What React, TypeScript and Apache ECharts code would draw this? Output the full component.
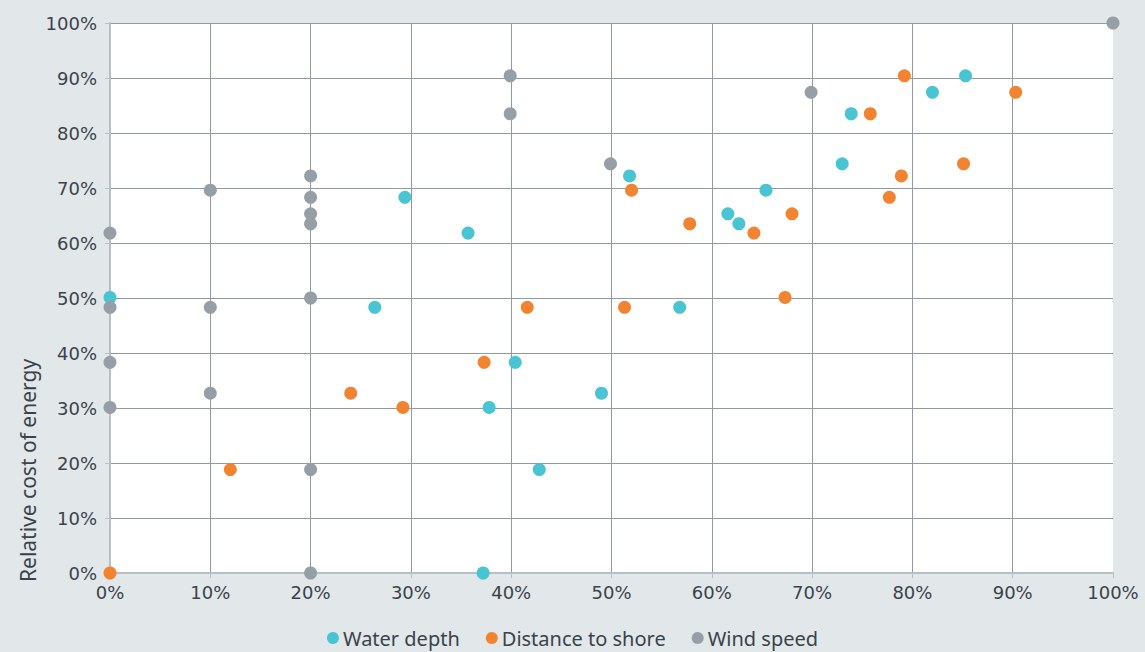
import React, { useEffect, useRef } from "react";
import * as echarts from "echarts";

const seriesNames = ["Water depth", "Distance to shore", "Wind speed"];

const waterDepth: [number, number][] = [
  [0, 50.1], [26.4, 48.3], [29.4, 68.3], [35.7, 61.8], [37.2, 0], [37.8, 30.1],
  [40.4, 38.3], [42.8, 18.8], [49.0, 32.7], [51.8, 72.2], [56.8, 48.3], [61.6, 65.3],
  [62.7, 63.5], [65.4, 69.6], [73.0, 74.4], [73.9, 83.5], [82.0, 87.4], [85.3, 90.4],
];

const distanceToShore: [number, number][] = [
  [0, 0], [12.0, 18.8], [24.0, 32.7], [29.2, 30.1], [37.3, 38.3], [41.6, 48.3],
  [51.3, 48.3], [52.0, 69.6], [57.8, 63.5], [64.2, 61.8], [67.3, 50.1], [68.0, 65.3],
  [75.8, 83.5], [77.7, 68.3], [78.9, 72.2], [79.2, 90.4], [85.1, 74.4], [90.3, 87.4],
];

const windSpeed: [number, number][] = [
  [0, 61.8], [0, 48.3], [0, 38.3], [0, 30.1], [10, 69.6], [10, 48.3], [10, 32.7],
  [20, 72.2], [20, 68.3], [20, 65.3], [20, 63.5], [20, 50], [20, 18.8], [20, 0],
  [39.9, 90.4], [39.9, 83.5], [49.9, 74.4], [69.9, 87.4], [100, 100],
];

const colors = ["#48c4d2", "#f28431", "#969fa6"];
const yTitle = "Relative cost of energy";

export default function App() {
  const ref = useRef<HTMLDivElement>(null);
  useEffect(() => {
    if (!ref.current) return;
    const chart = echarts.init(ref.current, undefined, { renderer: "svg" });
    const textColor = "#3a434a";
    const gridColor = "#8f9aa3";
    const axisColor = "#b9c0c5";
    const datasets = [waterDepth, distanceToShore, windSpeed];
    chart.setOption({
      animation: false,
      backgroundColor: "#e2e7ea",
      grid: {
        left: 110,
        right: 32,
        top: 23,
        bottom: 79,
        show: true,
        backgroundColor: "#ffffff",
        borderWidth: 0,
      },
      legend: {
        data: seriesNames,
        left: "center",
        top: 626,
        icon: "circle",
        itemWidth: 12,
        itemHeight: 12,
        itemGap: 26,
        padding: 0,
        textStyle: {
          fontFamily: "Noto Sans",
          fontSize: 20,
          lineHeight: 24,
          color: textColor,
          padding: [0, 0, 0, -1],
        },
      },
      xAxis: {
        type: "value",
        min: 0,
        max: 100,
        interval: 10,
        axisLabel: {
          formatter: "{value}%",
          fontFamily: "DejaVu Sans",
          fontSize: 18,
          color: textColor,
          margin: 10,
        },
        axisLine: { show: true, lineStyle: { color: axisColor, width: 2 } },
        axisTick: { show: true, length: 5, lineStyle: { color: axisColor } },
        splitLine: { show: true, showMinLine: false, showMaxLine: false, lineStyle: { color: gridColor, width: 1 } },
      },
      yAxis: {
        type: "value",
        min: 0,
        max: 100,
        interval: 10,
        axisLabel: {
          formatter: "{value}%",
          fontFamily: "DejaVu Sans",
          fontSize: 18,
          color: textColor,
          margin: 13,
        },
        axisLine: { show: true, lineStyle: { color: axisColor, width: 2 } },
        axisTick: { show: true, length: 5, lineStyle: { color: axisColor } },
        splitLine: { show: true, showMinLine: false, lineStyle: { color: gridColor, width: 1 } },
      },
      graphic: [
        {
          type: "text",
          x: 28,
          y: 582,
          rotation: Math.PI / 2,
          style: {
            text: yTitle,
            fill: textColor,
            fontFamily: "Noto Sans",
            fontSize: 21,
            align: "left",
            verticalAlign: "middle",
          },
        },
      ],
      series: seriesNames.map((name, i) => ({
        name,
        type: "scatter",
        data: datasets[i],
        symbol: "circle",
        symbolSize: 13,
        clip: false,
        itemStyle: { color: colors[i], opacity: 1 },
        emphasis: { disabled: true },
      })),
    });
    return () => chart.dispose();
  }, []);
  return (
    <div
      ref={ref}
      style={{ position: "fixed", left: 0, top: 0, width: 1145, height: 652 }}
    />
  );
}
